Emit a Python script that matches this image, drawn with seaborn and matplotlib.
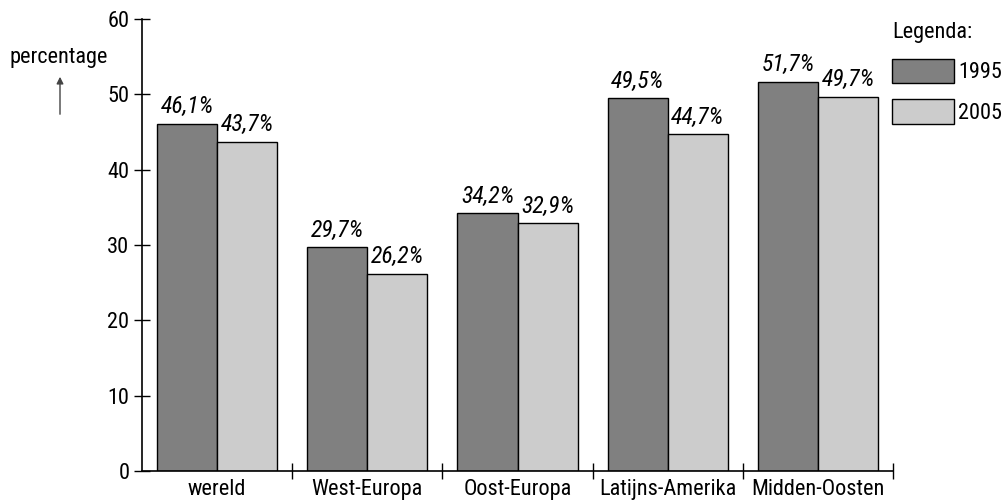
import pandas as pd
import matplotlib.pyplot as plt
from matplotlib import font_manager as fm
from matplotlib.patches import FancyArrowPatch
import seaborn as sb

regions = ['wereld', 'West-Europa', 'Oost-Europa', 'Latijns-Amerika', 'Midden-Oosten']
years = ['1995', '2005']
val_1995 = [46.1, 29.7, 34.2, 49.5, 51.7]
val_2005 = [43.7, 26.2, 32.9, 44.7, 49.7]
colors = ['#808080', '#cccccc']

df = pd.DataFrame({
    'regio': regions * 2,
    'jaar': [years[0]] * len(regions) + [years[1]] * len(regions),
    'pct': val_1995 + val_2005,
})

sb.set_style('white')

# smal lettertype zoeken, anders Liberation Sans iets kleiner
fonts = fm.fontManager.ttflist
names = {f.name for f in fonts}
fs, fs_val = 16, 17
if 'Liberation Sans Narrow' in names:
    plt.rcParams['font.family'] = ['Liberation Sans Narrow', 'DejaVu Sans']
elif 'Roboto Condensed' in names:
    plt.rcParams['font.family'] = ['Roboto Condensed', 'DejaVu Sans']
else:
    plt.rcParams['font.family'] = ['Liberation Sans', 'DejaVu Sans']
    fs, fs_val = 13.5, 14
plt.rcParams['text.color'] = 'black'
plt.rcParams['xtick.color'] = 'black'
plt.rcParams['ytick.color'] = 'black'

fig = plt.figure(figsize=(10.08, 5.03), dpi=100)
ax = fig.add_axes([142 / 1008, 1 - 471 / 503, (893 - 142) / 1008, (471 - 19) / 503])

sb.barplot(data=df, x='regio', y='pct', hue='jaar', palette=colors, order=regions,
           hue_order=years, edgecolor='black', linewidth=1, width=0.8, ax=ax)

for cont in ax.containers:
    labels = ['{:.1f}%'.format(v).replace('.', ',') for v in cont.datavalues]
    ax.bar_label(cont, labels=labels, padding=4, fontstyle='italic', fontsize=fs_val)

ax.set_xlim(-0.5, len(regions) - 0.5)
ax.set_ylim(0, 60)
ax.set_yticks(range(0, 61, 10))
ax.set_xticks([i + 0.5 for i in range(len(regions))])
ax.set_xticklabels([])
ax.set_xticks(range(len(regions)), minor=True)
ax.set_xticklabels(regions, minor=True)
ax.tick_params(axis='x', which='major', bottom=True, direction='inout', length=12, width=1)
ax.tick_params(axis='x', which='minor', bottom=True, length=0, pad=6, labelsize=fs)
ax.tick_params(axis='y', left=True, direction='inout', length=12, width=1, pad=3, labelsize=fs)
ax.set(xlabel='', ylabel='')
for s in ['top', 'right']:
    ax.spines[s].set_visible(False)
for s in ['left', 'bottom']:
    ax.spines[s].set_color('black')
    ax.spines[s].set_linewidth(1.2)

fig.text(59 / 1008, 1 - 58 / 503, 'percentage', ha='center', va='center', fontsize=fs)
fig.add_artist(FancyArrowPatch(
    (60 / 1008, 1 - 117 / 503), (60 / 1008, 1 - 74 / 503), transform=fig.transFigure,
    arrowstyle='-|>', mutation_scale=10, color='#444444', linewidth=1))

handles, labs = ax.get_legend_handles_labels()
ax.legend(handles, labs, title='Legenda:', loc='upper left', frameon=False,
          bbox_to_anchor=(892 / 1008, 1 - 22 / 503), bbox_transform=fig.transFigure,
          fontsize=fs, title_fontsize=fs, handlelength=62 / (fs * 1.389),
          handleheight=30 / (fs * 1.389), handletextpad=0.2, labelspacing=0.7,
          borderpad=0, borderaxespad=0, alignment='left')

fig.savefig('out.png', dpi=100)
